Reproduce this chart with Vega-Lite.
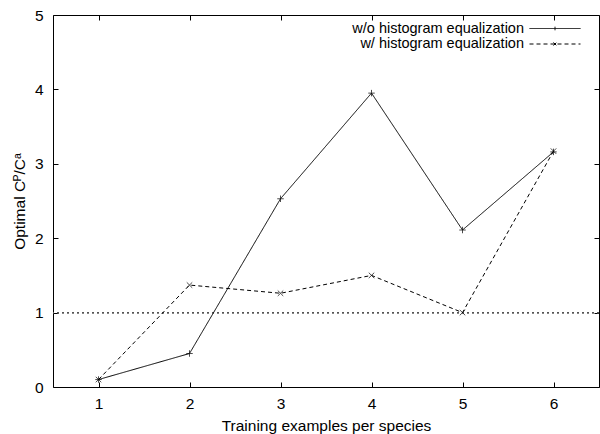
{
  "$schema": "https://vega.github.io/schema/vega-lite/v6.json",
  "width": 546,
  "height": 372,
  "autosize": "none",
  "padding": {"left": 53, "top": 15, "right": 1, "bottom": 47},
  "background": "white",
  "config": {
    "font": "Liberation Sans",
    "view": {"stroke": "black", "strokeWidth": 1},
    "axis": {
      "grid": false,
      "domain": false,
      "tickColor": "black",
      "tickSize": -5,
      "tickWidth": 1,
      "labelFont": "Liberation Sans",
      "labelFontSize": 15.5,
      "labelColor": "black",
      "titleFont": "Liberation Sans",
      "titleFontSize": 15.5,
      "titleFontWeight": "normal",
      "titleColor": "black"
    },
    "legend": {
      "orient": "none",
      "title": null,
      "labelFont": "Liberation Sans",
      "labelFontSize": 14.5,
      "labelColor": "black",
      "labelAlign": "right",
      "labelOffset": -57,
      "symbolSize": 2601,
      "symbolStrokeWidth": 1,
      "symbolStrokeColor": "black",
      "symbolFillColor": "transparent",
      "labelLimit": 400
    }
  },
  "data": {
    "values": [
      {"series": "w/o histogram equalization", "x": 1, "y": 0.1},
      {"series": "w/o histogram equalization", "x": 2, "y": 0.45},
      {"series": "w/o histogram equalization", "x": 3, "y": 2.53},
      {"series": "w/o histogram equalization", "x": 4, "y": 3.95},
      {"series": "w/o histogram equalization", "x": 5, "y": 2.11},
      {"series": "w/o histogram equalization", "x": 6, "y": 3.16},
      {"series": "w/ histogram equalization", "x": 1, "y": 0.1},
      {"series": "w/ histogram equalization", "x": 2, "y": 1.37},
      {"series": "w/ histogram equalization", "x": 3, "y": 1.26},
      {"series": "w/ histogram equalization", "x": 4, "y": 1.5},
      {"series": "w/ histogram equalization", "x": 5, "y": 1.0},
      {"series": "w/ histogram equalization", "x": 6, "y": 3.17}
    ]
  },
  "layer": [
    {
      "mark": {"type": "rule", "color": "#555555", "strokeWidth": 1, "strokeDash": [2, 3]},
      "encoding": {
        "y": {"datum": 1, "type": "quantitative", "scale": {"domain": [0, 5], "nice": false}, "axis": null}
      }
    },
    {
      "transform": [{"filter": "datum.series === 'w/o histogram equalization'"}],
      "mark": {"type": "line", "color": "black", "strokeWidth": 1},
      "encoding": {
        "x": {
          "field": "x", "type": "quantitative",
          "scale": {"domain": [0.5, 6.5], "nice": false, "zero": false},
          "axis": {"orient": "bottom", "values": [1, 2, 3, 4, 5, 6], "labelPadding": 14, "titlePadding": 7, "title": "Training examples per species"}
        },
        "y": {
          "field": "y", "type": "quantitative",
          "scale": {"domain": [0, 5], "nice": false},
          "axis": {"orient": "left", "values": [0, 1, 2, 3, 4, 5], "labelPadding": 15, "titlePadding": 7, "title": "Optimal Cᴾ/Cᵃ"}
        },
        "strokeDash": {
          "field": "series", "type": "nominal",
          "scale": {"domain": ["w/o histogram equalization"], "range": [[1, 0]]},
          "legend": {
            "legendX": 476,
            "legendY": -12.5,
            "symbolType": "M-1,0H1M0,-0.07V0.07"
          }
        }
      }
    },
    {
      "transform": [{"filter": "datum.series === 'w/ histogram equalization'"}],
      "mark": {"type": "line", "color": "black", "strokeWidth": 1},
      "encoding": {
        "x": {"field": "x", "type": "quantitative", "axis": null},
        "y": {"field": "y", "type": "quantitative", "axis": null},
        "strokeDash": {
          "field": "series", "type": "nominal",
          "scale": {"domain": ["w/ histogram equalization"], "range": [[4, 3]]},
          "legend": {
            "legendX": 476,
            "legendY": 3,
            "symbolType": "M-1,0H1M-0.06,-0.06L0.06,0.06M-0.06,0.06L0.06,-0.06"
          }
        }
      }
    },
    {
      "transform": [{"filter": "datum.series === 'w/o histogram equalization'"}],
      "mark": {"type": "point", "filled": false, "color": "black", "strokeWidth": 1, "shape": "M-1,0H1M0,-1V1", "size": 42},
      "encoding": {
        "x": {"field": "x", "type": "quantitative", "axis": {"orient": "top", "values": [1, 2, 3, 4, 5, 6], "labels": false, "title": null}},
        "y": {"field": "y", "type": "quantitative", "axis": {"orient": "right", "values": [0, 1, 2, 3, 4, 5], "labels": false, "title": null}}
      }
    },
    {
      "transform": [{"filter": "datum.series === 'w/ histogram equalization'"}],
      "mark": {"type": "point", "filled": false, "color": "black", "strokeWidth": 1, "shape": "M-1,-1L1,1M-1,1L1,-1", "size": 30},
      "encoding": {
        "x": {"field": "x", "type": "quantitative", "axis": null},
        "y": {"field": "y", "type": "quantitative", "axis": null}
      }
    }
  ],
  "resolve": {
    "axis": {"x": "independent", "y": "independent"},
    "scale": {"strokeDash": "independent"},
    "legend": {"strokeDash": "independent"}
  }
}
